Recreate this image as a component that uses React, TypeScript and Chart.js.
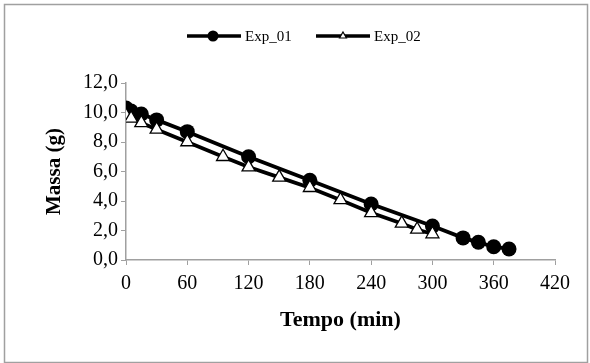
import React, { useEffect, useRef } from "react";
import { Chart, registerables } from "chart.js";

Chart.register(...registerables);

const exp01Time = [0, 5, 15, 30, 60, 120, 180, 240, 300, 330, 345, 360, 375];
const exp01Mass = [10.3, 10.1, 9.9, 9.5, 8.7, 7.0, 5.4, 3.8, 2.3, 1.5, 1.2, 0.9, 0.75];

const exp02Time = [0, 5, 15, 30, 60, 95, 120, 150, 180, 210, 240, 270, 285, 300];
const exp02Mass = [9.8, 9.6, 9.3, 8.85, 8.0, 7.0, 6.3, 5.6, 4.9, 4.07, 3.2, 2.48, 2.07, 1.76];

const seriesNames = ["Exp_01", "Exp_02"];
const xTitle = "Tempo (min)";
const yTitle = "Massa (g)";

const FONT = "'Liberation Serif', 'Times New Roman', serif";
const AXIS_COLOR = "#a0a0a0";

const frameAndLegend = {
  id: "frameAndLegend",
  beforeDraw(chart: any) {
    const ctx = chart.ctx;
    ctx.save();
    ctx.fillStyle = "#ffffff";
    ctx.fillRect(0, 0, chart.width, chart.height);
    ctx.strokeStyle = AXIS_COLOR;
    ctx.lineWidth = 1.5;
    ctx.strokeRect(4.5, 4.5, chart.width - 7, chart.height - 5);
    ctx.restore();
  },
  afterDraw(chart: any) {
    const ctx = chart.ctx;
    const y = 36;
    ctx.save();
    ctx.strokeStyle = "#000";
    ctx.lineWidth = 3.5;
    ctx.beginPath();
    ctx.moveTo(187, y);
    ctx.lineTo(241, y);
    ctx.stroke();
    ctx.fillStyle = "#000";
    ctx.beginPath();
    ctx.arc(213, y, 5.5, 0, Math.PI * 2);
    ctx.fill();
    ctx.beginPath();
    ctx.moveTo(316, y);
    ctx.lineTo(370, y);
    ctx.stroke();
    const r = 4;
    ctx.beginPath();
    for (let i = 0; i < 3; i++) {
      const a = (i * 2 * Math.PI) / 3;
      const px = 343 + Math.sin(a) * r;
      const py = y - Math.cos(a) * r;
      if (i === 0) ctx.moveTo(px, py);
      else ctx.lineTo(px, py);
    }
    ctx.closePath();
    ctx.fillStyle = "#fff";
    ctx.fill();
    ctx.lineWidth = 1.2;
    ctx.stroke();
    ctx.fillStyle = "#000";
    ctx.font = `15px ${FONT}`;
    ctx.textBaseline = "middle";
    ctx.textAlign = "left";
    ctx.fillText(seriesNames[0], 245, y + 1);
    ctx.fillText(seriesNames[1], 374, y + 1);
    ctx.restore();
  },
};

export default function App() {
  const ref = useRef<HTMLCanvasElement | null>(null);

  useEffect(() => {
    if (!ref.current) return;
    const chart = new Chart(ref.current, {
      type: "line",
      data: {
        datasets: [
          {
            label: seriesNames[0],
            data: exp01Time.map((t, i) => ({ x: t, y: exp01Mass[i] })),
            borderColor: "#000",
            backgroundColor: "#000",
            borderWidth: 3.8,
            pointStyle: "circle",
            pointRadius: 7.5,
            pointBackgroundColor: "#000",
            pointBorderColor: "#000",
            pointBorderWidth: 0,
            tension: 0,
            order: 1,
          },
          {
            label: seriesNames[1],
            data: exp02Time.map((t, i) => ({ x: t, y: exp02Mass[i] })),
            borderColor: "#000",
            backgroundColor: "#fff",
            borderWidth: 3.8,
            pointStyle: "triangle",
            pointRadius: 7.5,
            pointBackgroundColor: "#fff",
            pointBorderColor: "#000",
            pointBorderWidth: 1.3,
            tension: 0,
            order: 0,
          },
        ],
      },
      options: {
        responsive: false,
        animation: false,
        events: [],
        layout: { padding: { top: 83, right: 35, left: 0, bottom: 0 } },
        plugins: {
          legend: { display: false },
          tooltip: { enabled: false },
        },
        scales: {
          x: {
            type: "linear",
            min: 0,
            max: 420,
            afterFit: (s: any) => {
              s.height = 103;
            },
            ticks: {
              stepSize: 60,
              autoSkip: false,
              maxRotation: 0,
              color: "#000",
              padding: 7,
              font: { family: FONT, size: 20 },
            },
            grid: {
              drawOnChartArea: false,
              drawTicks: true,
              tickLength: 5,
              color: AXIS_COLOR,
            },
            border: { display: true, color: AXIS_COLOR, width: 1.5 },
            title: {
              display: true,
              text: xTitle,
              color: "#000",
              font: { family: FONT, size: 22, weight: "bold" },
              padding: { top: 0, bottom: 29 },
            },
          },
          y: {
            type: "linear",
            min: 0,
            max: 12,
            afterFit: (s: any) => {
              s.width = 126;
            },
            ticks: {
              stepSize: 2,
              color: "#000",
              padding: 3,
              font: { family: FONT, size: 20 },
              callback: (v: any) => Number(v).toFixed(1).replace(".", ","),
            },
            grid: {
              drawOnChartArea: false,
              drawTicks: true,
              tickLength: 5,
              color: AXIS_COLOR,
            },
            border: { display: true, color: AXIS_COLOR, width: 1.5 },
            title: {
              display: true,
              text: yTitle,
              color: "#000",
              font: { family: FONT, size: 21, weight: "bold" },
              padding: { top: 42, bottom: 0 },
            },
          },
        },
      },
      plugins: [frameAndLegend],
    } as any);
    return () => chart.destroy();
  }, []);

  return (
    <div style={{ position: "absolute", left: 0, top: 0, width: 590, height: 363 }}>
      <canvas ref={ref} width={590} height={363} style={{ display: "block", width: 590, height: 363 }} />
    </div>
  );
}
